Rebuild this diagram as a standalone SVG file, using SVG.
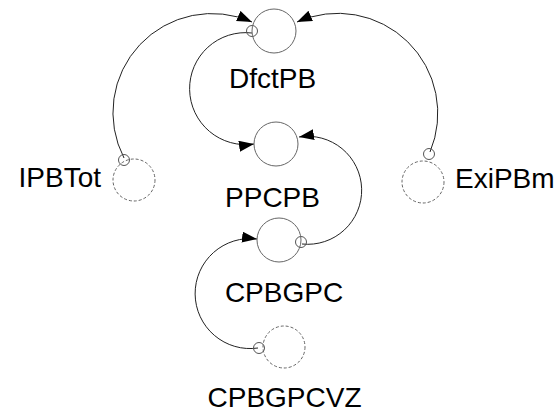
<svg xmlns="http://www.w3.org/2000/svg" width="555" height="414" viewBox="0 0 555 414">
<style>
.node{fill:none;stroke:#666;stroke-width:1}
.cloud{fill:none;stroke:#666;stroke-width:1;stroke-dasharray:3,2}
.link{fill:none;stroke:#222;stroke-width:1}
.valve{fill:none;stroke:#555;stroke-width:1}
.lbl{font-family:"Liberation Sans",Arial,sans-serif;font-size:28px;fill:#000}
</style>
<defs>
<marker id="arr" markerUnits="userSpaceOnUse" markerWidth="16" markerHeight="12" refX="15" refY="5.5" orient="auto">
<path d="M0,0 L15,5.5 L0,11 z" fill="#000"/>
</marker>
</defs>
<g id="connectors">
<path class="link" d="M124,158 A99,99 0 0 1 252,22" marker-end="url(#arr)"/>
<path class="link" d="M430,152 A100,100 0 0 0 297,22" marker-end="url(#arr)"/>
<path class="link" d="M252,33 A56,56 0 1 0 254,144" marker-end="url(#arr)"/>
<path class="link" d="M302,244 A54,54 0 1 0 299,137" marker-end="url(#arr)"/>
<path class="link" d="M258,348 A55,55 0 1 1 257,239" marker-end="url(#arr)"/>
<circle class="valve" cx="124" cy="160" r="5.5"/>
<circle class="valve" cx="252" cy="31" r="5.5"/>
<circle class="valve" cx="429" cy="154" r="5.5"/>
<circle class="valve" cx="301" cy="242" r="5.5"/>
<circle class="valve" cx="259" cy="348" r="5.5"/>
</g>
<g id="DfctPB">
<circle class="node" cx="274" cy="31" r="22"/>
<text class="lbl" x="272.5" y="88" text-anchor="middle">DfctPB</text>
</g>
<g id="PPCPB">
<circle class="node" cx="276" cy="144" r="22"/>
<text class="lbl" x="272.5" y="207" text-anchor="middle">PPCPB</text>
</g>
<g id="CPBGPC">
<circle class="node" cx="279" cy="240" r="22"/>
<text class="lbl" x="284" y="302" text-anchor="middle">CPBGPC</text>
</g>
<g id="CPBGPCVZ">
<circle class="cloud" cx="284" cy="347" r="21"/>
<text class="lbl" x="284.5" y="407" text-anchor="middle">CPBGPCVZ</text>
</g>
<g id="IPBTot">
<circle class="cloud" cx="134" cy="180" r="21"/>
<text class="lbl" x="101" y="187" text-anchor="end">IPBTot</text>
</g>
<g id="ExiPBm">
<circle class="cloud" cx="423" cy="182" r="21"/>
<text class="lbl" x="455" y="188">ExiPBm</text>
</g>
</svg>
